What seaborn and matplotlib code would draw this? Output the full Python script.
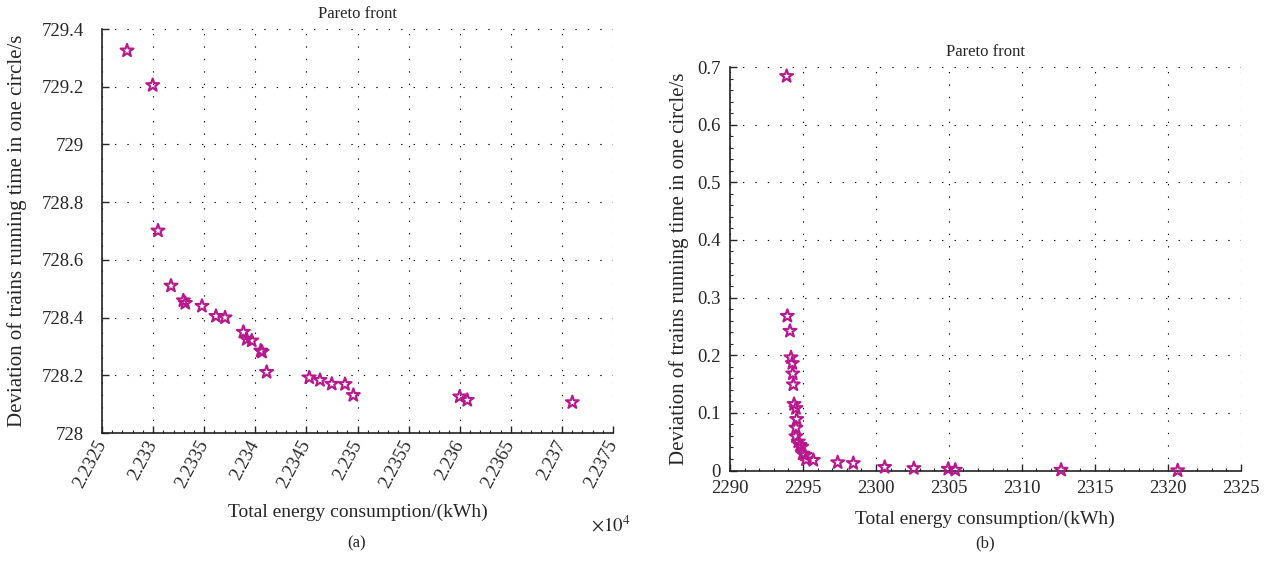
import matplotlib
matplotlib.use("Agg")
import matplotlib.pyplot as plt
from matplotlib.ticker import FixedLocator, AutoMinorLocator, FuncFormatter
import numpy as np
import pandas as pd
import seaborn as sns

# Panel (a): total energy (kWh) vs. running-time deviation (s)
energy_a = [22327.45, 22329.96, 22330.48, 22331.75, 22332.96, 22333.15, 22334.78,
            22336.15, 22337.04, 22338.83, 22339.16, 22339.65, 22340.53, 22340.66,
            22341.11, 22345.28, 22346.33, 22347.48, 22348.78, 22349.59, 22360.00,
            22360.74, 22371.02]
deviation_a = [729.325, 729.205, 728.701, 728.510, 728.459, 728.450, 728.440,
               728.405, 728.400, 728.350, 728.325, 728.320, 728.285, 728.281,
               728.211, 728.192, 728.183, 728.170, 728.169, 728.131, 728.126,
               728.114, 728.106]

# Panel (b)
energy_b = [2293.88, 2293.93, 2294.11, 2294.18, 2294.27, 2294.30, 2294.34, 2294.39,
            2294.52, 2294.57, 2294.52, 2294.52, 2294.68, 2294.80, 2294.91, 2294.98,
            2295.14, 2295.21, 2295.71, 2297.38, 2298.45, 2300.60, 2302.60, 2304.96,
            2305.44, 2312.69, 2320.68]
deviation_b = [0.684, 0.268, 0.242, 0.196, 0.186, 0.168, 0.149, 0.115, 0.108, 0.089,
               0.074, 0.059, 0.050, 0.044, 0.041, 0.029, 0.027, 0.019, 0.018, 0.014,
               0.0125, 0.0058, 0.0038, 0.0026, 0.0010, 0.0010, 0.0]

xticks_a = [22325, 22330, 22335, 22340, 22345, 22350, 22355, 22360, 22365, 22370, 22375]
yticks_a = [728, 728.2, 728.4, 728.6, 728.8, 729, 729.2, 729.4]
xticks_b = [2290, 2295, 2300, 2305, 2310, 2315, 2320, 2325]
yticks_b = [0, 0.1, 0.2, 0.3, 0.4, 0.5, 0.6, 0.7]

title = "Pareto front"
xlabel = "Total energy consumption/(kWh)"
ylabel = "Deviation of trains running time in one circle/s"
star_color = "#b8188c"

sns.set_style("ticks")
plt.rcParams["font.family"] = ["Liberation Serif", "DejaVu Serif"]
plt.rcParams["mathtext.fontset"] = "stix"

fig = plt.figure(figsize=(12.76, 5.73), dpi=100)
ax_a = fig.add_axes([102 / 1276, 1 - 433 / 573, 511 / 1276, 404 / 573])
ax_b = fig.add_axes([730 / 1276, 1 - 470.5 / 573, 510.7 / 1276, 403.5 / 573])

df_a = pd.DataFrame({"energy": energy_a, "deviation": deviation_a})
df_b = pd.DataFrame({"energy": energy_b, "deviation": deviation_b})

for ax, df in ((ax_a, df_a), (ax_b, df_b)):
    sns.scatterplot(data=df, x="energy", y="deviation", ax=ax, marker="*", s=95,
                    color=star_color, facecolor="none", edgecolor=star_color,
                    linewidth=1.5, zorder=3, clip_on=False)
    sns.despine(ax=ax)
    ax.grid(True, which="major", color="black", linestyle=(0, (1.2, 10)), linewidth=0.8)
    ax.set_axisbelow(True)
    ax.tick_params(which="major", direction="in", length=5, width=1, labelsize=13.5)
    ax.tick_params(which="minor", direction="in", length=2.5, width=0.8)
    ax.xaxis.set_minor_locator(AutoMinorLocator(5))
    for sp in ("left", "bottom"):
        ax.spines[sp].set_linewidth(1.2)
        ax.spines[sp].set_color("#222222")
    ax.set_title(title, fontsize=12, pad=8)

# Panel (a) axes
ax_a.set_xlim(xticks_a[0], xticks_a[-1])
ax_a.set_ylim(yticks_a[0], yticks_a[-1])
ax_a.xaxis.set_major_locator(FixedLocator(xticks_a))
ax_a.yaxis.set_major_locator(FixedLocator(yticks_a))
ax_a.xaxis.set_major_formatter(FuncFormatter(lambda v, p: f"{v / 1e4:g}"))
ax_a.yaxis.set_major_formatter(FuncFormatter(lambda v, p: f"{v:g}"))
ax_a.tick_params(axis="y", pad=13)
ax_a.tick_params(axis="x", pad=6)
for lab in ax_a.get_xticklabels():
    lab.set_rotation(62)
    lab.set_ha("right")
    lab.set_rotation_mode("anchor")
    lab.set_va("center")
ax_a.set_xlabel(xlabel, fontsize=14)
ax_a.set_ylabel(ylabel, fontsize=15)
ax_a.xaxis.set_label_coords(0.5, -0.175)
ax_a.yaxis.set_label_coords(-0.147, 0.5)
fig.text(611 / 1276, 1 - 525 / 573, r"$\times10^{4}$", fontsize=13.5, ha="center", va="center")

# Panel (b) axes
ax_b.set_xlim(xticks_b[0], xticks_b[-1])
ax_b.set_ylim(yticks_b[0], yticks_b[-1])
ax_b.xaxis.set_major_locator(FixedLocator(xticks_b))
ax_b.yaxis.set_major_locator(FixedLocator(yticks_b))
ax_b.yaxis.set_minor_locator(AutoMinorLocator(5))
ax_b.xaxis.set_major_formatter(FuncFormatter(lambda v, p: f"{v:g}"))
ax_b.yaxis.set_major_formatter(FuncFormatter(lambda v, p: f"{v:g}"))
ax_b.tick_params(axis="y", pad=7)
ax_b.tick_params(axis="x", pad=7)
ax_b.set_xlabel(xlabel, fontsize=14)
ax_b.set_ylabel(ylabel, fontsize=15)
ax_b.xaxis.set_label_coords(0.5, -0.10)
ax_b.yaxis.set_label_coords(-0.08, 0.5)

fig.text(357 / 1276, 1 - 543 / 573, "(a)", fontsize=12, ha="center", va="center")
fig.text(985 / 1276, 1 - 543 / 573, "(b)", fontsize=12, ha="center", va="center")

fig.savefig("out.png", dpi=100)
